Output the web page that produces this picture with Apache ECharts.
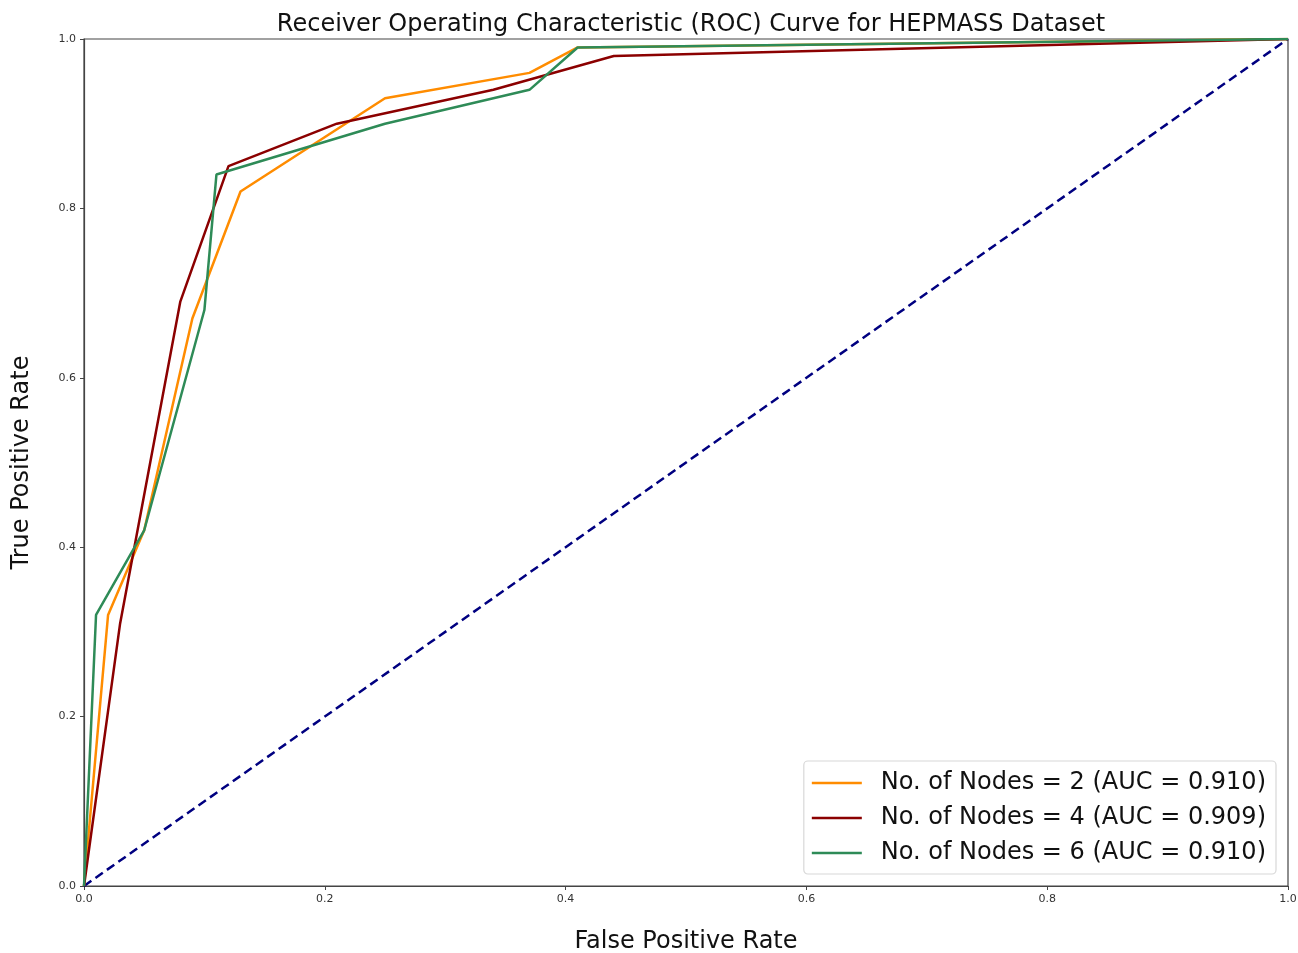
<!DOCTYPE html>
<html>
<head>
<meta charset="utf-8">
<script src="https://cdn.jsdelivr.net/npm/echarts@6/dist/echarts.min.js"></script>
<style>
  html, body { margin: 0; padding: 0; background: #fff; }
  #chart { width: 1298px; height: 953px; }
</style>
</head>
<body>
<div id="chart"></div>
<script>
// ROC curve points [FPR, TPR] per model configuration
const fprNodes2 = [0, 0.02, 0.05, 0.09, 0.13, 0.25, 0.37, 0.41, 1.0];
const tprNodes2 = [0, 0.32, 0.42, 0.67, 0.82, 0.93, 0.96, 0.99, 1.0];

const fprNodes4 = [0, 0.03, 0.08, 0.12, 0.21, 0.34, 0.44, 1.0];
const tprNodes4 = [0, 0.31, 0.69, 0.85, 0.90, 0.94, 0.98, 1.0];

const fprNodes6 = [0, 0.01, 0.05, 0.10, 0.11, 0.25, 0.37, 0.41, 1.0];
const tprNodes6 = [0, 0.32, 0.42, 0.68, 0.84, 0.90, 0.94, 0.99, 1.0];

const seriesNames = [
  'No. of Nodes = 2 (AUC = 0.910)',
  'No. of Nodes = 4 (AUC = 0.909)',
  'No. of Nodes = 6 (AUC = 0.910)'
];
const chanceLine = [[0, 0], [1, 1]];

const zip = (xs, ys) => xs.map((x, i) => [x, ys[i]]);
const font = 'DejaVu Sans';

const chart = echarts.init(document.getElementById('chart'));

function rocSeries(name, data, color) {
  return {
    name, type: 'line', data,
    showSymbol: false, symbol: 'none',
    lineStyle: { color, width: 2.5 },
    itemStyle: { color },
    z: 3, animation: false
  };
}

const valueAxis = (extra) => Object.assign({
  type: 'value', min: 0, max: 1, interval: 0.2,
  axisLine: { show: true, lineStyle: { color: '#444', width: 1.2 } },
  axisTick: { show: true, length: 4, inside: false, lineStyle: { color: '#444' } },
  splitLine: { show: false },
  nameTextStyle: { fontFamily: font, fontSize: 24, color: '#111' },
  axisLabel: {
    fontFamily: font, fontSize: 11, color: '#333', margin: 8,
    formatter: v => v.toFixed(1)
  }
}, extra);

chart.setOption({
  animation: false,
  backgroundColor: '#fff',
  title: {
    text: 'Receiver Operating Characteristic (ROC) Curve for HEPMASS Dataset',
    left: 686, top: 8, textAlign: 'center',
    textStyle: { fontFamily: font, fontSize: 24, fontWeight: 'normal', color: '#111' }
  },
  grid: {
    left: 84, right: 10, top: 39, bottom: 67,
    outerBoundsMode: 'none', containLabel: false,
    show: true, borderColor: '#444', borderWidth: 1.2, backgroundColor: 'transparent'
  },
  xAxis: valueAxis({
    name: 'False Positive Rate', nameLocation: 'middle', nameGap: 44
  }),
  yAxis: valueAxis({
    name: 'True Positive Rate', nameLocation: 'middle', nameGap: 50
  }),
  legend: {
    data: seriesNames.map(n => ({ name: n, icon: 'rect' })),
    orient: 'vertical',
    right: 22, bottom: 79,
    itemWidth: 50, itemHeight: 2.5, itemGap: 11,
    padding: [10, 10, 9, 8],
    backgroundColor: '#fff',
    borderColor: '#d8d8d8', borderWidth: 1.2, borderRadius: 4,
    textStyle: { fontFamily: font, fontSize: 24, color: '#111', padding: [0, 0, 0, 14] }
  },
  series: [
    rocSeries(seriesNames[0], zip(fprNodes2, tprNodes2), '#ff8c00'),
    rocSeries(seriesNames[1], zip(fprNodes4, tprNodes4), '#8b0000'),
    rocSeries(seriesNames[2], zip(fprNodes6, tprNodes6), '#2e8b57'),
    {
      name: 'chance', type: 'line', data: chanceLine,
      showSymbol: false, symbol: 'none',
      lineStyle: { color: '#000080', width: 2.5, type: [9, 5] },
      z: 2, animation: false
    }
  ]
});
</script>
</body>
</html>
